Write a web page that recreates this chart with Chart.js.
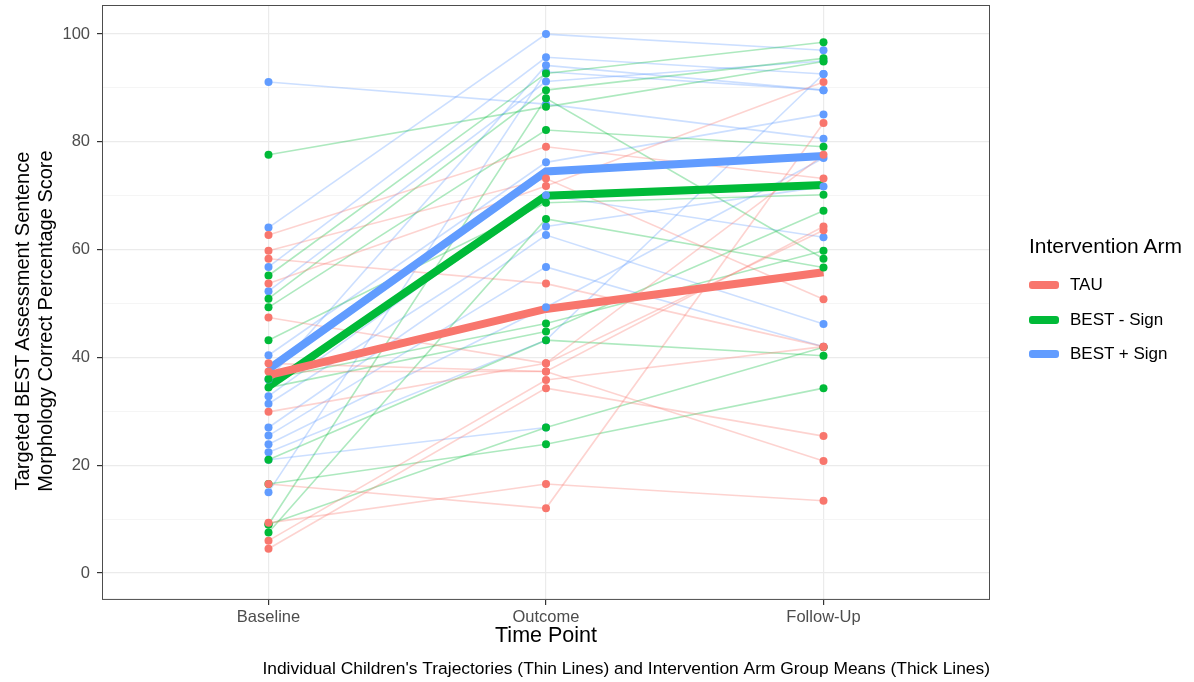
<!DOCTYPE html>
<html>
<head>
<meta charset="utf-8">
<title>BEST trajectories</title>
<script src="https://cdn.jsdelivr.net/npm/chart.js@4/dist/chart.umd.min.js"></script>
<style>
  html, body { margin: 0; padding: 0; background: #fff; }
  .wrap { position: relative; width: 1194px; height: 682px; font-family: "Liberation Sans", Arial, sans-serif; }
  .y-title {
    position: absolute; left: -166px; top: 298px; width: 400px; height: 46px;
    font-size: 20px; line-height: 23px; text-align: center; color: #000;
    transform: rotate(-90deg); white-space: nowrap;
  }
  .legend { position: absolute; left: 1029px; top: 232px; color: #000; }
  .legend-title { font-size: 21px; line-height: 28px; margin-bottom: 8px; }
  .legend-item { display: flex; align-items: center; height: 34.5px; font-size: 17px; }
  .legend-key { width: 30px; height: 8px; border-radius: 3px; margin-right: 11px; }
</style>
</head>
<body>
<div class="wrap">
  <canvas id="trajectory-chart"></canvas>
  <div class="y-title">Targeted BEST Assessment Sentence<br>Morphology Correct Percentage Score</div>
  <div class="legend" id="legend"></div>
</div>
<script>
const timePoints = ["Baseline", "Outcome", "Follow-Up"];
const yTicks = [0, 10, 20, 30, 40, 50, 60, 70, 80, 90, 100];
const arms = ["TAU", "BEST - Sign", "BEST + Sign"];

// one entry per child, same index across the three time points
const tauBaseline = [62.7, 59.8, 58.3, 53.7, 47.4, 38.9, 37.4, 29.9, 6.0, 4.5, 9.3, 16.5];
const tauOutcome = [79.1, 73.2, 53.7, 71.8, 38.9, 37.4, 37.4, 38.9, 35.8, 34.3, 16.5, 12.0];
const tauFollowUp = [73.2, 50.8, 42.0, 91.1, 63.6, 64.3, 20.8, 77.6, 42.0, 25.4, 13.4, 83.5];

const minusBaseline = [77.6, 55.2, 50.9, 49.3, 43.2, 36.0, 34.4, 21.0, 16.5, 9.0, 9.0, 7.5];
const minusOutcome = [86.5, 92.7, 89.6, 82.2, 68.7, 46.3, 44.8, 43.2, 23.9, 27.0, 88.1, 65.7];
const minusFollowUp = [94.9, 98.5, 95.5, 79.1, 70.2, 59.8, 67.2, 40.3, 34.3, 41.9, 58.3, 56.7];

const plusBaseline = [91.1, 64.1, 56.8, 52.3, 40.4, 35.9, 32.8, 31.4, 27.0, 25.5, 23.9, 22.4, 21.0, 15.0];
const plusOutcome = [87.0, 100.0, 95.7, 91.2, 76.2, 94.2, 70.1, 64.3, 62.7, 56.8, 49.3, 43.2, 27.0, 93.0];
const plusFollowUp = [80.6, 97.0, 92.6, 95.0, 85.1, 89.6, 62.3, 71.7, 46.2, 42.0, 77.0, 92.6, null, 89.6];

// group means (thick lines)
const tauMeans = [36.7, 49.0, 55.8];
const minusMeans = [34.6, 70.0, 72.0];
const plusMeans = [37.8, 74.5, 77.4];

const armColors = ["#F8766D", "#00BA38", "#619CFF"];

function hexToRgba(hex, a) {
  const n = parseInt(hex.slice(1), 16);
  return `rgba(${(n >> 16) & 255}, ${(n >> 8) & 255}, ${n & 255}, ${a})`;
}

function toPoints(values) {
  return values.map((v, i) => ({ x: i, y: v }));
}

// 細線：每個孩子一條
function childLines(base, out, fu, color) {
  return base.map((b, i) => ({
    type: "line",
    data: toPoints([b, out[i], fu[i]]),
    borderColor: hexToRgba(color, 0.32),
    borderWidth: 1.6,
    pointRadius: 0,
    fill: false,
    order: 3,
  }));
}

// 點：所有觀測值
function childPoints(base, out, fu, color) {
  const data = [];
  [base, out, fu].forEach((arr, t) => {
    arr.forEach((v) => {
      if (v !== null) data.push({ x: t, y: v });
    });
  });
  return {
    type: "scatter",
    data: data,
    backgroundColor: color,
    borderWidth: 0,
    pointRadius: 4,
    order: 0,
  };
}

function meanLine(means, color) {
  return {
    type: "line",
    data: toPoints(means),
    borderColor: color,
    borderWidth: 8,
    pointRadius: 0,
    fill: false,
    order: 1,
  };
}

const panelBorder = {
  id: "panelBorder",
  afterDraw(chart) {
    const { ctx, chartArea: a } = chart;
    ctx.save();
    ctx.strokeStyle = "#4d4d4d";
    ctx.lineWidth = 1;
    ctx.strokeRect(a.left + 0.5, a.top + 0.5, a.right - a.left - 1, a.bottom - a.top - 1);
    ctx.restore();
  },
};

function renderLegend() {
  const legend = document.querySelector("#legend");
  let html = `<div class="legend-title">Intervention Arm</div>`;
  arms.forEach((arm, i) => {
    html += `<div class="legend-item"><span class="legend-key" style="background:${armColors[i]}"></span>${arm}</div>`;
  });
  legend.innerHTML = html;
}

function renderChart() {
  const canvas = document.querySelector("#trajectory-chart");
  Chart.defaults.font.family = "'Liberation Sans', Arial, sans-serif";

  const datasets = [
    ...childLines(tauBaseline, tauOutcome, tauFollowUp, armColors[0]),
    ...childLines(minusBaseline, minusOutcome, minusFollowUp, armColors[1]),
    ...childLines(plusBaseline, plusOutcome, plusFollowUp, armColors[2]),
    meanLine(tauMeans, armColors[0]),
    meanLine(minusMeans, armColors[1]),
    meanLine(plusMeans, armColors[2]),
    childPoints(tauBaseline, tauOutcome, tauFollowUp, armColors[0]),
    childPoints(minusBaseline, minusOutcome, minusFollowUp, armColors[1]),
    childPoints(plusBaseline, plusOutcome, plusFollowUp, armColors[2]),
  ];

  new Chart(canvas, {
    data: { datasets },
    plugins: [panelBorder],
    options: {
      responsive: true,
      maintainAspectRatio: false,
      animation: false,
      events: [],
      layout: { padding: { top: 5, right: 204, bottom: 0, left: 0 } },
      plugins: {
        legend: { display: false },
        tooltip: { enabled: false },
        title: {
          display: true,
          position: "bottom",
          align: "end",
          text: "Individual Children's Trajectories (Thin Lines) and Intervention Arm Group Means (Thick Lines)",
          color: "#000",
          font: { size: 17.4, weight: "normal" },
          padding: { top: 9, bottom: 2.2 },
        },
      },
      scales: {
        x: {
          type: "linear",
          min: -0.6,
          max: 2.6,
          afterBuildTicks: (s) => {
            s.ticks = timePoints.map((_, i) => ({ value: i }));
          },
          afterFit: (s) => {
            s.height = 50;
            s.paddingLeft = 0;
            s.paddingRight = 0;
          },
          ticks: {
            callback: (v) => timePoints[v],
            color: "#4d4d4d",
            font: { size: 16.5 },
            padding: 3,
            maxRotation: 0,
          },
          grid: { color: "#ebebeb", lineWidth: 1.2, tickColor: "#333", tickLength: 5 },
          border: { display: false },
          title: {
            display: true,
            text: "Time Point",
            color: "#000",
            font: { size: 21.5 },
            padding: { top: 0, bottom: 1 },
          },
        },
        y: {
          min: -5,
          max: 105.4,
          afterBuildTicks: (s) => {
            s.ticks = yTicks.map((v) => ({ value: v }));
          },
          afterFit: (s) => {
            s.width = 102;
            s.paddingTop = 0;
            s.paddingBottom = 0;
          },
          ticks: {
            callback: (v) => (v % 20 === 0 ? v : ""),
            color: "#4d4d4d",
            font: { size: 16.5 },
            padding: 7,
          },
          grid: {
            color: (c) => (c.tick.value % 20 === 0 ? "#ebebeb" : "#f3f3f3"),
            lineWidth: (c) => (c.tick.value % 20 === 0 ? 1.2 : 0.8),
            tickColor: (c) => (c.tick.value % 20 === 0 ? "#333" : "rgba(0,0,0,0)"),
            tickLength: 5,
          },
          border: { display: false },
        },
      },
    },
  });
}

renderLegend();
renderChart();
</script>
</body>
</html>
